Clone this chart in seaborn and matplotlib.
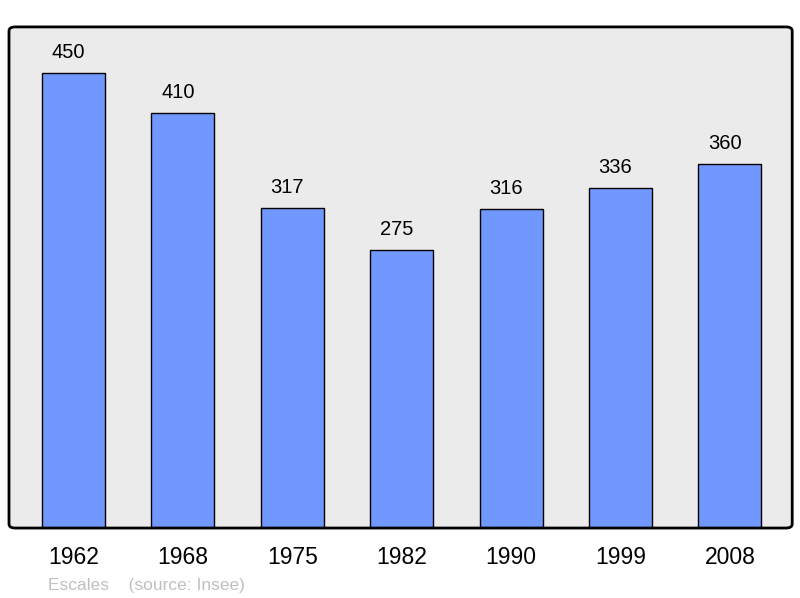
import matplotlib
matplotlib.use("Agg")
import matplotlib.pyplot as plt
import seaborn as sns
import pandas as pd
from matplotlib.patches import FancyBboxPatch

# Data
years = ["1962", "1968", "1975", "1982", "1990", "1999", "2008"]
population = [450, 410, 317, 275, 316, 336, 360]

df = pd.DataFrame({"year": years, "pop": population})

sns.set_style("white")
plt.rcParams["font.family"] = ["Liberation Sans", "DejaVu Sans"]

fig = plt.figure(figsize=(8, 5.98), dpi=100)
ax = fig.add_axes([0.01125, 0.117, 0.979, 0.838])
ax.set_facecolor("none")

# Rounded frame: grey fill behind the bars, black outline on top
box = dict(boxstyle="round,pad=0,rounding_size=0.008", transform=ax.transAxes,
           clip_on=False)
ax.add_patch(FancyBboxPatch((0, 0), 1, 1, facecolor="#ebebeb",
                            edgecolor="none", zorder=0, **box))
ax.add_patch(FancyBboxPatch((0, 0), 1, 1, facecolor="none",
                            edgecolor="black", linewidth=2, zorder=5, **box))

sns.barplot(data=df, x="year", y="pop", color="#7098ff", saturation=1,
            width=0.576, edgecolor="black", linewidth=1, ax=ax, zorder=2)

for i, v in enumerate(population):
    ax.annotate(str(v), (i, v), xytext=(-3.6, 10.8), textcoords="offset points",
                ha="center", va="baseline", fontsize=14.5, color="black")

ax.set_xlim(-0.59, 6.57)
ax.set_ylim(0, 495.6)
ax.set_yticks([])
ax.set_xlabel("")
ax.set_ylabel("")
ax.tick_params(axis="x", length=0, pad=13, labelsize=16.5, colors="black")
for s in ax.spines.values():
    s.set_visible(False)

fig.text(0.06, 0.0134, "Escales    (source: Insee)", fontsize=12.5,
         color="#c0c0c0", va="baseline", ha="left")

fig.savefig("out.png", dpi=100)
